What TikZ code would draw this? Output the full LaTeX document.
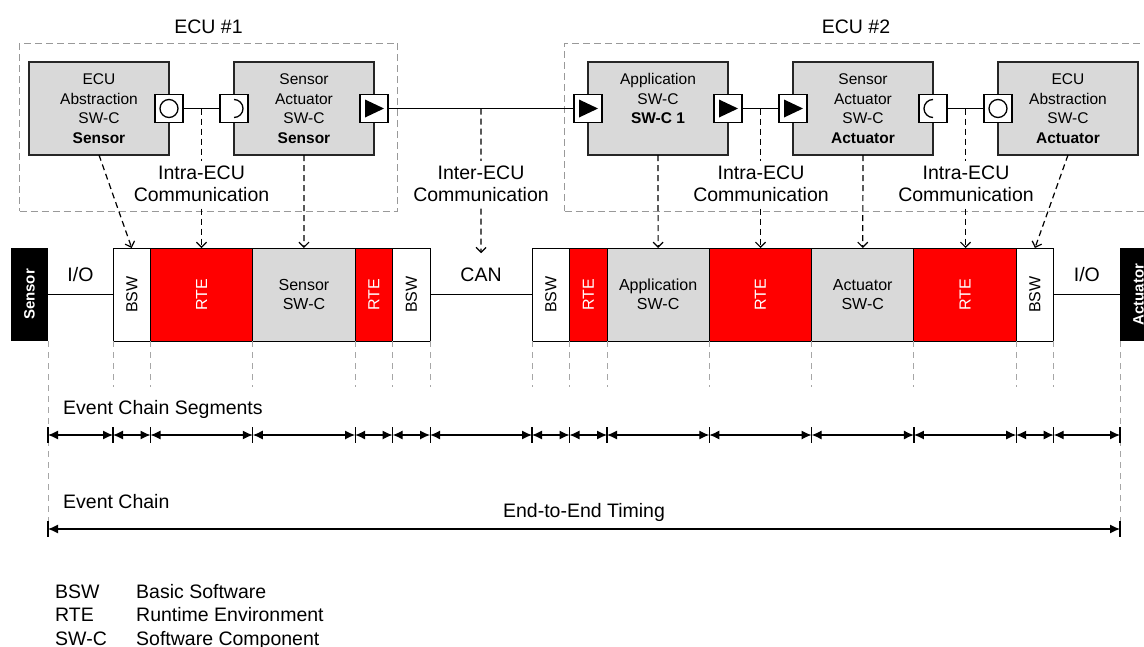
\documentclass[tikz,border=0pt]{standalone}
\usepackage{fontspec}
\setmainfont{Liberation Sans}
\usetikzlibrary{arrows.meta,positioning}

\begin{document}
\begin{tikzpicture}[
    x=1pt, y=-1pt, >=Latex,
    ecu/.style={draw=black!40, line width=1pt, dash pattern=on 7pt off 4pt, inner sep=0pt},
    swc/.style={draw=black!85, line width=1.8pt, fill=black!15, minimum width=140pt, minimum height=93pt, inner sep=0pt, outer sep=0pt, align=center, font=\fontsize{15.5}{19.6}\selectfont},
    port/.style={draw, line width=1.3pt, fill=white, minimum size=28pt, inner sep=0pt},
    pcirc/.style={port, path picture={\draw[black, line width=1.3pt] (path picture bounding box.center) circle[radius=9];}},
    ptri/.style={port, path picture={\fill[black] (path picture bounding box.center) ++(-9,-9) -- ++(19,9) -- ++(-19,9) -- cycle;}},
    psockR/.style={port, path picture={\draw[black, line width=1.3pt] (path picture bounding box.center) ++(0,-9) arc[start angle=-90, end angle=90, radius=9];}},
    psockL/.style={port, path picture={\draw[black, line width=1.3pt] (path picture bounding box.center) ++(0,-9) arc[start angle=270, end angle=90, radius=9];}},
    seg/.style={draw, line width=1pt, minimum height=93pt, inner sep=0pt, outer sep=0pt, align=center, font=\fontsize{16}{19}\selectfont},
    narrow/.style={seg, minimum width=37.5pt},
    wide/.style={seg, minimum width=102.3pt},
    bsw/.style={narrow, fill=white},
    rte/.style={fill=red, text=white},
    swcseg/.style={wide, fill=black!15},
    dev/.style={fill=black, text=white, minimum width=37pt, minimum height=93pt, inner sep=0pt, outer sep=0pt, font=\fontsize{15}{18}\selectfont\bfseries},
    lbl/.style={font=\fontsize{19.5}{22}\selectfont, align=center, inner sep=1pt},
    comm/.style={lbl, fill=white, inner ysep=5pt},
    wire/.style={line width=1.5pt},
    dconn/.style={->, >={Straight Barb[length=5pt,width=10pt]}, line width=1.2pt, dash pattern=on 6pt off 4pt},
    guide/.style={draw=black!35, line width=1pt, dash pattern=on 6pt off 5pt},
    span/.style={<->, >={Latex[length=10pt,width=9pt]}, line width=1.2pt},
    endtick/.style={line width=1.2pt}
]
    \useasboundingbox (0,0) rectangle (1144,646);

    % ECU frames
    \node[ecu, minimum width=378pt, minimum height=168pt] (frameA) at (208.5,127) {};
    \node[ecu, minimum width=583pt, minimum height=168pt] (frameB) at (856,127) {};
    \node[lbl] (ecuA) at (208.5,26.5) {ECU \#1};
    \node[lbl] (ecuB) at (856,26.5) {ECU \#2};

    % software components and ports
    \node[swc] (absSen) at (99,108.5) {ECU\\Abstraction\\SW-C\\\textbf{Sensor}};
    \node[swc, right=65pt of absSen] (sasSen) {Sensor\\Actuator\\SW-C\\\textbf{Sensor}};
    \node[swc] (appC) at (658,108.5) {Application\\SW-C\\\textbf{SW-C 1}\\\phantom{A}};
    \node[swc, right=65pt of appC] (sasAct) {Sensor\\Actuator\\SW-C\\\textbf{Actuator}};
    \node[swc, right=65pt of sasAct] (absAct) {ECU\\Abstraction\\SW-C\\\textbf{Actuator}};

    \node[pcirc] (pA) at (absSen.east) {};
    \node[psockR] (pB) at (sasSen.west) {};
    \node[ptri] (pC) at (sasSen.east) {};
    \node[ptri] (pD) at (appC.west) {};
    \node[ptri] (pE) at (appC.east) {};
    \node[ptri] (pF) at (sasAct.west) {};
    \node[psockL] (pG) at (sasAct.east) {};
    \node[pcirc] (pH) at (absAct.west) {};

    \draw[wire] (pA) -- coordinate (mA) (pB);
    \draw[wire] (pC) -- coordinate (mB) (pD);
    \draw[wire] (pE) -- coordinate (mC) (pF);
    \draw[wire] (pG) -- coordinate (mD) (pH);

    % event chain
    \node[dev] (sensor) at (29.5,294.5) {\rotatebox{90}{Sensor}};
    \node[bsw, anchor=west] (bswA) at (113,294.5) {\rotatebox{90}{BSW}};
    \node[wide, rte, right=0pt of bswA] (rteA) {\rotatebox{90}{RTE}};
    \node[swcseg, right=0pt of rteA] (senS) {Sensor\\SW-C};
    \node[narrow, rte, right=0pt of senS] (rteB) {\rotatebox{90}{RTE}};
    \node[bsw, right=0pt of rteB] (bswB) {\rotatebox{90}{BSW}};
    \node[bsw, anchor=west] (bswC) at (532,294.5) {\rotatebox{90}{BSW}};
    \node[narrow, rte, right=0pt of bswC] (rteC) {\rotatebox{90}{RTE}};
    \node[swcseg, right=0pt of rteC] (appS) {Application\\SW-C};
    \node[wide, rte, right=0pt of appS] (rteD) {\rotatebox{90}{RTE}};
    \node[swcseg, right=0pt of rteD] (actS) {Actuator\\SW-C};
    \node[wide, rte, right=0pt of actS] (rteE) {\rotatebox{90}{RTE}};
    \node[bsw, right=0pt of rteE] (bswD) {\rotatebox{90}{BSW}};
    \node[dev, anchor=west] (actuator) at (1120,294.5) {\rotatebox{90}{Actuator}};

    \draw[wire] (sensor.east) -- node[lbl, above=11pt] (ioA) {I/O} (bswA.west);
    \draw[wire] (bswB.east) -- node[lbl, above=11pt] (can) {CAN} (bswC.west);
    \draw[wire] (bswD.east) -- node[lbl, above=11pt] (ioB) {I/O} (actuator.west);

    \draw[dconn] (absSen.south) -- (bswA.north);
    \draw[dconn] (mA) -- (mA |- rteA.north);
    \draw[dconn] (sasSen.south) -- (senS.north);
    \draw[dconn] (mB) -- ([yshift=13pt]can.north);
    \draw[dconn] (appC.south) -- (appS.north);
    \draw[dconn] (mC) -- (mC |- rteD.north);
    \draw[dconn] (sasAct.south) -- (actS.north);
    \draw[dconn] (mD) -- (mD |- rteE.north);
    \draw[dconn] (absAct.south) -- (bswD.north);

    \node[comm] (intraA) at (201.5,184) {Intra-ECU\\Communication};
    \node[comm] (inter) at (481,184) {Inter-ECU\\Communication};
    \node[comm] (intraB) at (761,184) {Intra-ECU\\Communication};
    \node[comm] (intraC) at (966,184) {Intra-ECU\\Communication};

    % segments
    \foreach \n [count=\i from 0] in {sensor.south east, bswA.south west, bswA.south east, rteA.south east, senS.south east, rteB.south east, bswB.south east, bswC.south west, bswC.south east, rteC.south east, appS.south east, rteD.south east, actS.south east, rteE.south east, bswD.south east, actuator.south west}
        \coordinate (b\i) at (\n);
    \foreach \i in {1,...,14}
        \draw[guide] (b\i) -- ++(0,46);
    \draw[guide] (b0) -- ++(0,195);
    \draw[guide] (b15) -- ++(0,195);
    \foreach \i [evaluate=\i as \j using int(\i+1)] in {0,...,14}
        \draw[span] ([yshift=-94pt]b\i) -- ([yshift=-94pt]b\j);
    \foreach \i in {0,...,15}
        \draw[endtick] ([yshift=-86pt]b\i) -- ([yshift=-102pt]b\i);

    \node[lbl, anchor=base west] (segT) at (62,414) {Event Chain Segments};
    \node[lbl, anchor=base west] (chainT) at (62,508) {Event Chain};
    \draw[span] ([yshift=-188pt]b0) -- node[lbl, above=6pt] (e2e) {End-to-End Timing} ([yshift=-188pt]b15);
    \foreach \i in {0,15}
        \draw[endtick] ([yshift=-180pt]b\i) -- ([yshift=-196pt]b\i);

    % legend
    \foreach \abbr/\full [count=\i from 0] in {BSW/Basic Software, RTE/Runtime Environment, SW-C/Software Component} {
        \node[lbl, anchor=base west] (key\i) at (54,598+23.5*\i) {\abbr};
        \node[lbl, anchor=base west] (val\i) at (135,598+23.5*\i) {\full};
    }
\end{tikzpicture}
\end{document}
